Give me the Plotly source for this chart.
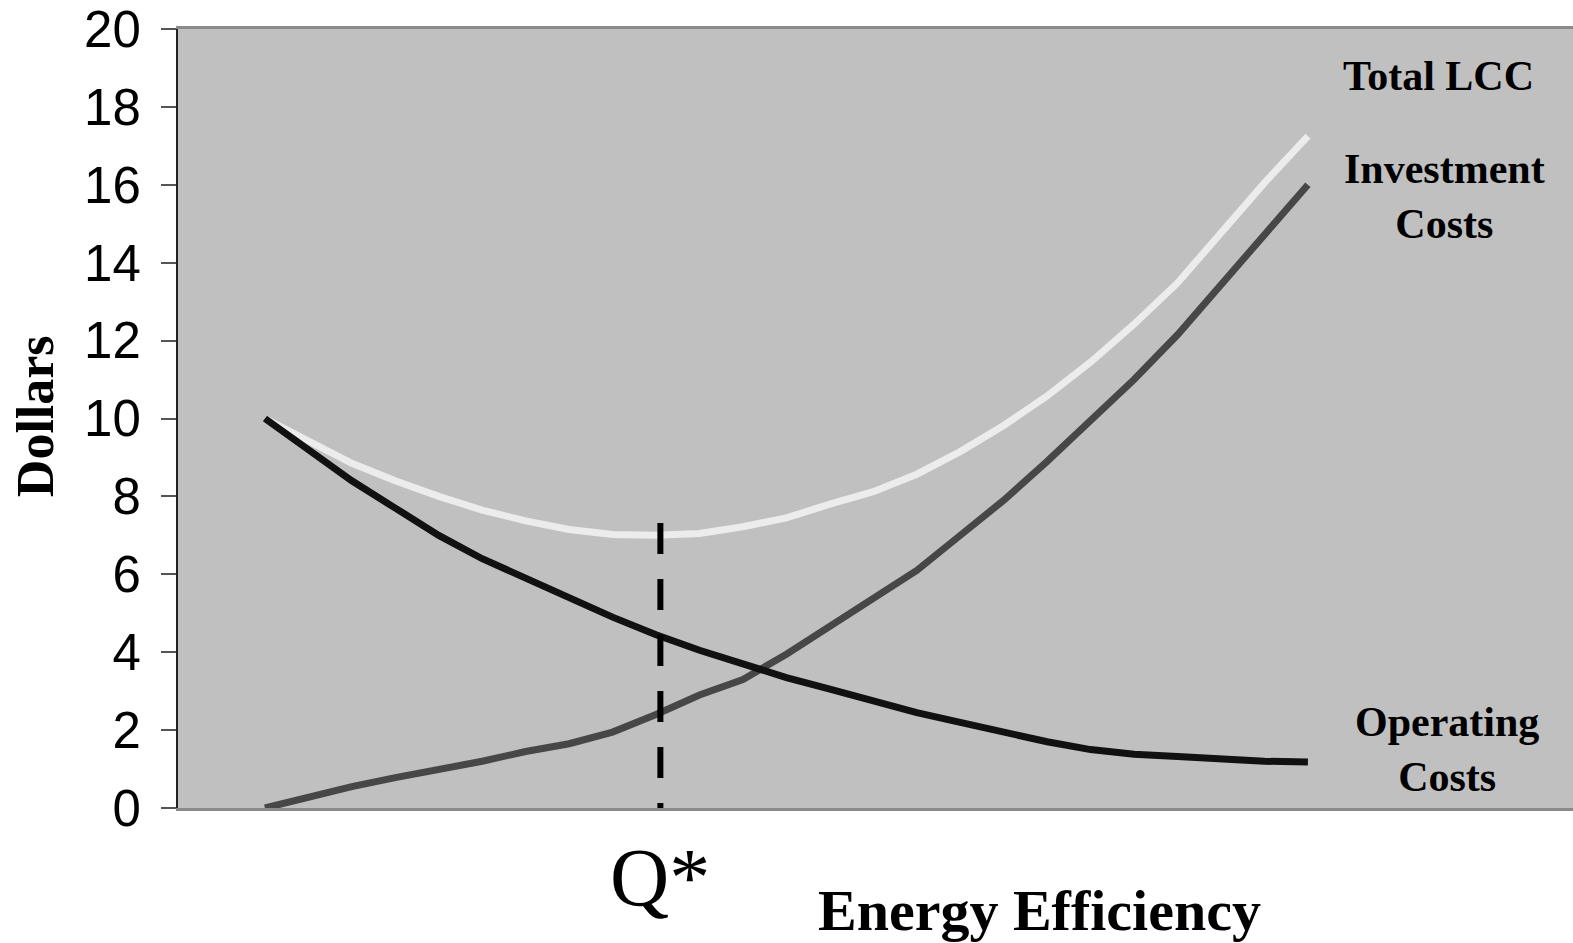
import plotly.graph_objects as go

# ---- data ----
efficiency_steps = list(range(25))  # positions along the Energy Efficiency axis

operating_costs = [10.0, 9.2, 8.4, 7.7, 7.0, 6.4, 5.9, 5.4, 4.9, 4.45, 4.05, 3.7, 3.35,
                   3.05, 2.75, 2.45, 2.2, 1.95, 1.7, 1.5, 1.38, 1.32, 1.25, 1.2, 1.18]
investment_costs = [0.0, 0.28, 0.55, 0.78, 0.98, 1.2, 1.45, 1.65, 1.95, 2.4, 2.9, 3.3, 3.95,
                    4.65, 5.35, 6.1, 7.0, 7.9, 8.9, 9.95, 11.0, 12.15, 13.45, 14.75, 16.0]
total_lcc = [10.0, 9.4, 8.85, 8.4, 8.0, 7.65, 7.37, 7.15, 7.02, 7.0, 7.05, 7.22, 7.45,
             7.8, 8.12, 8.57, 9.15, 9.82, 10.58, 11.45, 12.42, 13.48, 14.75, 16.05, 17.25]

q_star_x = [9.1, 9.1]
q_star_y = [7.32, 0.0]

y_ticks = [0, 2, 4, 6, 8, 10, 12, 14, 16, 18, 20]

fig = go.Figure()
fig.add_trace(go.Scatter(x=efficiency_steps, y=total_lcc, mode="lines",
                         line=dict(color="#ECECEC", width=7), name="Total LCC"))
fig.add_trace(go.Scatter(x=efficiency_steps, y=investment_costs, mode="lines",
                         line=dict(color="#474747", width=7), name="Investment Costs"))
fig.add_trace(go.Scatter(x=efficiency_steps, y=operating_costs, mode="lines",
                         line=dict(color="#111111", width=7), name="Operating Costs"))
fig.add_trace(go.Scatter(x=q_star_x, y=q_star_y, mode="lines",
                         line=dict(color="#000000", width=6, dash="31px,25px"), name="Q*"))

serif = "Liberation Serif, Times New Roman, serif"

anns = [
    dict(xref="x", yref="y", x=27.0, y=18.8, text="<b>Total LCC</b>",
         font=dict(size=42, family=serif, color="#000")),
    dict(xref="x", yref="y", x=27.15, y=15.7, text="<b>Investment<br>Costs</b>",
         font=dict(size=42, family=serif, color="#000")),
    dict(xref="x", yref="y", x=27.2, y=1.49, text="<b>Operating<br>Costs</b>",
         font=dict(size=42, family=serif, color="#000")),
    dict(xref="x", yref="paper", x=9.1, y=-0.0886, text="Q*",
         font=dict(size=82, family=serif, color="#000")),
    dict(xref="x", yref="paper", x=17.83, y=-0.132, text="<b>Energy Efficiency</b>",
         font=dict(size=58, family=serif, color="#000")),
    dict(xref="paper", yref="y", x=-0.1025, y=10.06, text="<b>Dollars</b>", textangle=-90,
         font=dict(size=52, family=serif, color="#000")),
]
for a in anns:
    a.update(showarrow=False, xanchor="center", yanchor="middle")

fig.update_layout(
    width=1573, height=943,
    margin=dict(l=178, r=0, t=29, b=135),
    paper_bgcolor="white",
    plot_bgcolor="#C0C0C0",
    showlegend=False,
    hovermode=False,
    annotations=anns,
    xaxis=dict(range=[-2.0, 30.1], showgrid=False, zeroline=False, showticklabels=False,
               ticks="", showline=True, mirror=True, linecolor="#8A8A8A", linewidth=3),
    yaxis=dict(range=[0, 20], tickvals=y_ticks, showgrid=False, zeroline=False,
               ticks="outside", ticklen=15, tickwidth=2, tickcolor="#555555",
               showline=True, linecolor="#222222", linewidth=2,
               ticklabelstandoff=10, ticklabeloverflow="allow",
               tickfont=dict(size=51, family="Liberation Sans, Arial, sans-serif", color="#000")),
)

fig.write_html(
    "out.html",
    config={"displayModeBar": False},
    post_script="document.body.style.margin='0';document.documentElement.style.overflow='hidden';document.body.style.overflow='hidden';",
)
